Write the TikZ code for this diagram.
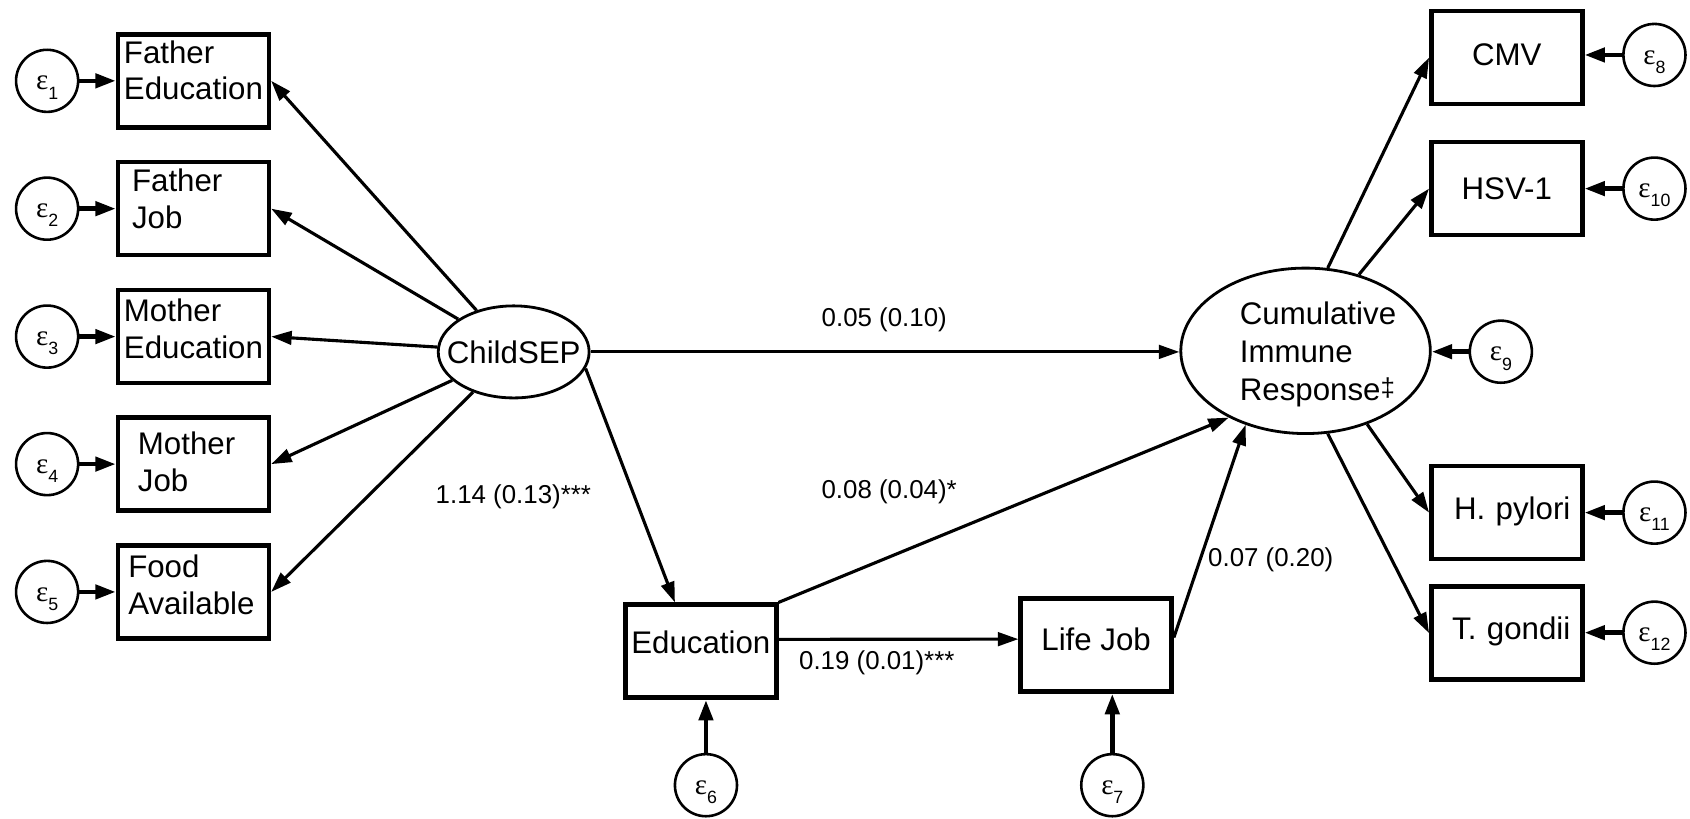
\documentclass[tikz,border=0pt]{standalone}
\usepackage{fontspec}
\setmainfont{Liberation Sans}
\newfontfamily\epsfont{Liberation Serif}
\usetikzlibrary{arrows.meta,shapes.geometric,calc}
\newcommand{\myeps}[1]{{\epsfont\fontsize{27}{27}\selectfont ε}\raisebox{-8.5pt}{\fontsize{16.5}{16.5}\selectfont #1}}
\begin{document}
\begin{tikzpicture}[x=1pt,y=-1pt,
  every node/.style={inner sep=0pt},
  obs/.style={draw, line width=4.2pt, minimum width=140pt, minimum height=86.3pt, font=\fontsize{29}{34}\selectfont},
  obsl/.style={obs, align=left},
  lat/.style={draw, ellipse, line width=2.6pt, font=\fontsize{29}{35}\selectfont},
  err/.style={draw, circle, line width=2.4pt, minimum size=57.6pt, text height=26pt, text depth=9pt},
  conn/.style={line width=2.9pt, -{Triangle[length=19pt,width=12.5pt]}},
  econn/.style={line width=4.2pt, -{Triangle[length=19pt,width=13pt]}},
  lab/.style={font=\fontsize{24}{24}\selectfont}
]
\useasboundingbox (0,0) rectangle (1568,759);

% left observed variables
\node[obsl, text width=129pt, text depth=53.6pt] (fe) at (179.5,75) {Father\\Education};
\node[obsl, text width=114pt, text depth=52.2pt] (fj) at (179.5,193.6) {Father\\Job};
\node[obsl, text width=129pt, text depth=48.6pt] (me) at (179.5,312.3) {Mother\\Education};
\node[obsl, text width=103pt, text depth=38.2pt] (mj) at (179.5,430.6) {Mother\\Job};
\node[obsl, text width=121pt, text depth=47.4pt] (fa) at (179.5,549.2) {Food\\Available};

% latent variables
\node[lat, minimum width=140pt, minimum height=85.4pt] (cs) at (476.6,326.5) {\makebox[0pt]{ChildSEP}};
\node[lat, minimum width=231.5pt, minimum height=153.5pt, align=left, text width=122pt, text depth=69pt] (cir) at (1211.3,325.5)
  {Cumulative\\Immune\\Response\raisebox{4pt}{\fontsize{24}{24}\selectfont ‡}};

% middle observed variables
\node[obs, text depth=17pt] (edu) at (650.2,604.2) {Education};
\node[obs, text depth=11pt] (lj) at (1017,598.5) {Life Job};

% right observed variables
\node[obs, text depth=4.8pt] (cmv) at (1398,53.4) {CMV};
\node[obs, text depth=0.6pt] (hsv) at (1398,175) {HSV-1};
\node[obs, text depth=7.8pt, text width=118pt, align=right] (hp) at (1398,475.6) {H. pylori};
\node[obs, text depth=9.2pt, text width=118pt, align=right] (tg) at (1398,587.4) {T. gondii};

% error terms
\node[err] (e1) at (43.7,75) {\myeps{1}};
\node[err] (e2) at (43.7,193.6) {\myeps{2}};
\node[err] (e3) at (43.7,312.3) {\myeps{3}};
\node[err] (e4) at (43.7,430.6) {\myeps{4}};
\node[err] (e5) at (43.7,549.2) {\myeps{5}};
\node[err] (e6) at (655,728.5) {\myeps{6}};
\node[err] (e7) at (1032,728.5) {\myeps{7}};
\node[err] (e8) at (1535,51) {\myeps{8}};
\node[err] (e9) at (1392.5,326.3) {\myeps{9}};
\node[err] (e10) at (1535,175) {\myeps{10}};
\node[err] (e11) at (1535,475.6) {\myeps{11}};
\node[err] (e12) at (1535,587) {\myeps{12}};

% path labels
\node[lab] (l1) at (820.4,297) {0.05 (0.10)};
\node[lab] (l2) at (476.3,461) {1.14 (0.13)***};
\node[lab] (l3) at (825,456.6) {0.08 (0.04)*};
\node[lab] (l4) at (813.5,614.8) {0.19 (0.01)***};
\node[lab] (l5) at (1179,519) {0.07 (0.20)};

% error arrows
\foreach \e/\v in {e1/fe,e2/fj,e3/me,e4/mj,e5/fa}
  \draw[econn] (\e.east) -- (\e.east -| \v.west);
\foreach \e/\v in {e8/cmv,e10/hsv,e11/hp,e12/tg}
  \draw[econn] (\e.west) -- (\e.west -| \v.east);
\draw[econn] (e9.west) -- (e9.west -| cir.east);
\draw[econn] (e6.north) -- (e6.north |- edu.south);
\draw[econn] (e7.north) -- (e7.north |- lj.south);

% measurement paths
\foreach \v in {fe,fj,me,mj,fa}
  \draw[conn] (cs) -- (\v.east);
\draw[conn] (cir.75) -- (cmv.west);
\draw[conn] (cir.55) -- (hsv.west);
\draw[conn] (cir.-50) -- (hp.west);
\draw[conn] (cir.-75) -- (tg.west);

% structural paths
\draw[conn] (cs.east) -- (cs.east -| cir.west);
\draw[conn] (cs.-13) -- ([xshift=-24pt]edu.north);
\draw[conn] (edu.north east) -- (cir.221);
\draw[conn] ([yshift=11pt]edu.east) -- ([yshift=5.5pt]lj.west);
\draw[conn] ([yshift=7pt]lj.east) -- (cir.231);
\end{tikzpicture}
\end{document}
